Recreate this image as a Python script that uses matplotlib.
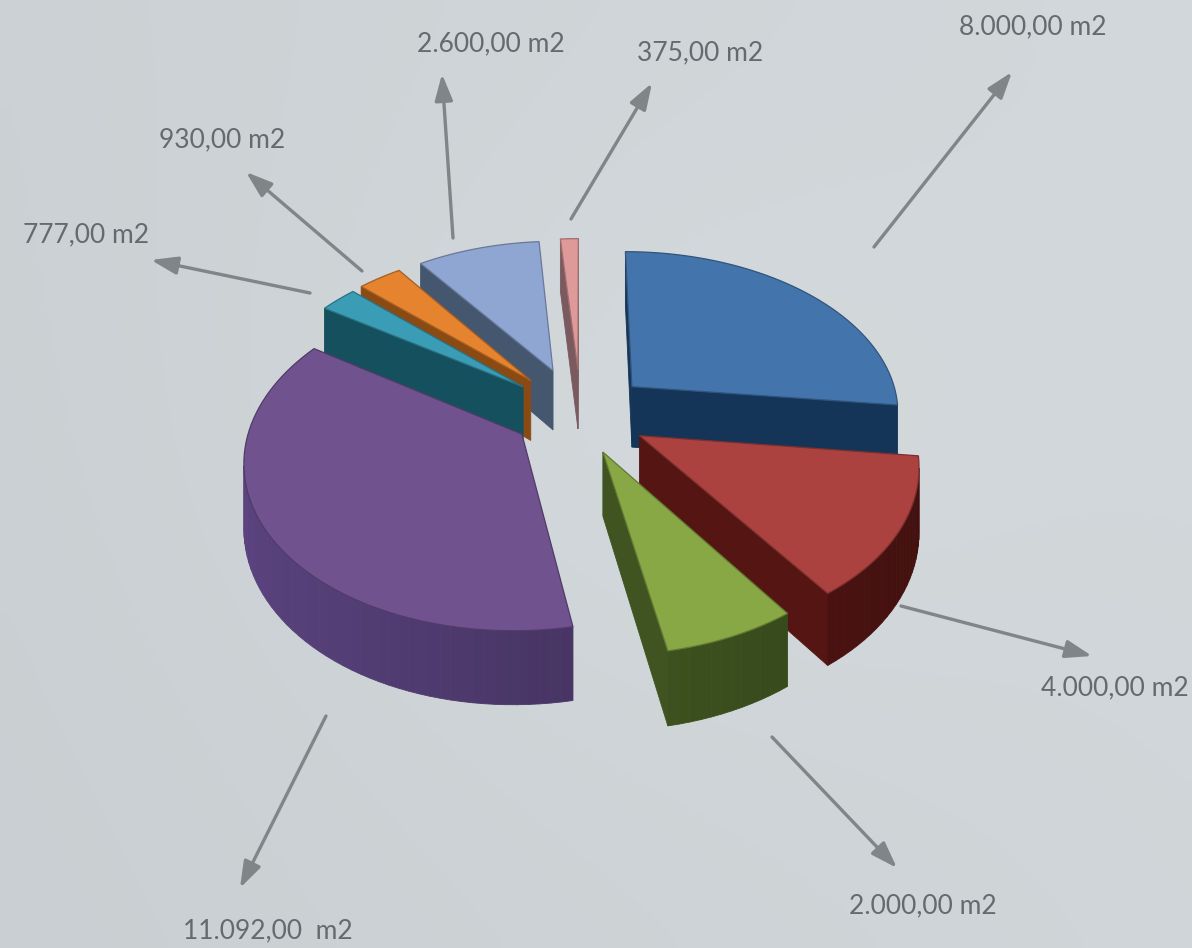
import numpy as np
import matplotlib
matplotlib.use("Agg")
import matplotlib.pyplot as plt
from matplotlib.patches import Polygon

labels = ["8.000,00 m2", "4.000,00 m2", "2.000,00 m2", "11.092,00  m2",
          "777,00 m2", "930,00 m2", "2.600,00 m2", "375,00 m2"]
values = [8000, 4000, 2000, 11092, 777, 930, 2600, 375]
top_colors = ["#4474AC", "#AC4240", "#87A845", "#70528F", "#3A9DB5", "#E5832F", "#8FA6D3", "#DE9A99"]
side_colors = ["#143557", "#541513", "#3F5420", "#4A3768", "#15505F", "#8A4A14", "#45566F", "#7A5A5E"]
explode = [0.27, 0.29, 0.24, 0.22, 0.30, 0.32, 0.36, 0.30]
nudge = [(4, -5), (-4, -9), (2, -5), (-3, -6), (10, -4), (11, -2), (10, 3), (6, -4)]

CX, CY = 575, 420
SX, SY, K, H = 269, 162, 0.144, 62


def project(x, n, z=0.0):
    w = 1 + K * n
    return CX + SX * x / w, CY - SY * n / w + H * z / w


def shaded(color, f):
    c = np.array(matplotlib.colors.to_rgb(color)) * f
    return tuple(c.clip(0, 1))


def signed_area(x, y):
    return 0.5 * np.sum(x * np.roll(y, -1) - np.roll(x, -1) * y)


fig = plt.figure(figsize=(11.92, 9.48), dpi=100)
ax = fig.add_axes([0, 0, 1, 1])
ax.set_xlim(0, 1192)
ax.set_ylim(948, 0)
ax.axis("off")
yy, xx = np.mgrid[0:1:60j, 0:1:60j]
shade = 0.79 + 0.025 * xx + 0.008 * (1 - yy) + 0.015 * np.exp(-((xx - 0.55) ** 2 + (yy - 0.45) ** 2) / 0.12)
rgb = np.dstack([shade, shade + 0.022, shade + 0.034]).clip(0, 1)
ax.imshow(rgb, extent=[0, 1192, 948, 0], aspect="auto", zorder=0, interpolation="bilinear")

fracs = np.array(values) / sum(values) * 2 * np.pi
starts = np.concatenate([[0], np.cumsum(fracs)[:-1]])
slices = []
for st, fr, ex, tc, sc, nd in zip(starts, fracs, explode, top_colors, side_colors, nudge):
    mid = st + fr / 2
    ox, on = ex * np.sin(mid), ex * np.cos(mid)
    th = np.linspace(st, st + fr, max(int(np.degrees(fr) / 2), 3) + 1)
    slices.append(dict(ox=ox, on=on, th=th, x=ox + np.sin(th), n=on + np.cos(th), tc=tc, sc=sc,
                       nd=nd, depth=on + np.cos(mid) * 0.5))

z = 2
for s in sorted(slices, key=lambda d: -d["depth"]):
    xs = np.concatenate([[s["ox"]], s["x"]])
    ns = np.concatenate([[s["on"]], s["n"]])
    px, py = project(xs, ns)
    bx, by = project(xs, ns, 1)
    px, bx = px + s["nd"][0], bx + s["nd"][0]
    py, by = py + s["nd"][1], by + s["nd"][1]
    m = len(xs)
    top_area = signed_area(px, py)
    faces = []
    for i in range(m):
        j = (i + 1) % m
        q = np.array([(px[i], py[i]), (px[j], py[j]), (bx[j], by[j]), (bx[i], by[i])])
        if signed_area(q[:, 0], q[:, 1]) * top_area >= 0:
            continue
        f = 1.0
        if 0 < i < m - 1:
            # the rim catches the light towards the left of the pie
            f = 1.0 + 0.22 * np.sin(s["th"][i] - np.pi)
        faces.append((q[:, 1].mean(), q, f))
    for _, q, f in sorted(faces, key=lambda t: t[0]):
        c = shaded(s["sc"], f)
        ax.add_patch(Polygon(q, closed=True, fc=c, ec=c, lw=0.6, zorder=z))
    z += 1
    ax.add_patch(Polygon(np.column_stack([px, py]), closed=True, fc=s["tc"], ec=shaded(s["tc"], 0.72), lw=0.9, zorder=z))
    z += 1

GREY = "#808688"
arrows = [((874, 247), (1012, 72)), ((901, 606), (1092, 656)), ((772, 737), (897, 868)),
          ((326, 716), (240, 888)), ((310, 293), (151, 260)), ((362, 271), (246, 172)),
          ((453, 238), (442, 74)), ((571, 219), (652, 83))]
label_pos = [(1033, 27), (1115, 688), (923, 906), (268, 931), (86, 235), (222, 140), (491, 44), (700, 53)]
for (a, b), txt, p in zip(arrows, labels, label_pos):
    ax.annotate("", xy=b, xytext=a, zorder=50,
                arrowprops=dict(arrowstyle="-|>,head_length=1.0,head_width=0.34", color=GREY, lw=2.4,
                                shrinkA=0, shrinkB=0, mutation_scale=16))
    ax.text(p[0], p[1], txt, ha="center", va="center", fontsize=19, color="#646B6F",
            family=["Lato", "DejaVu Sans"], zorder=60)

fig.savefig("out.png", dpi=100)
